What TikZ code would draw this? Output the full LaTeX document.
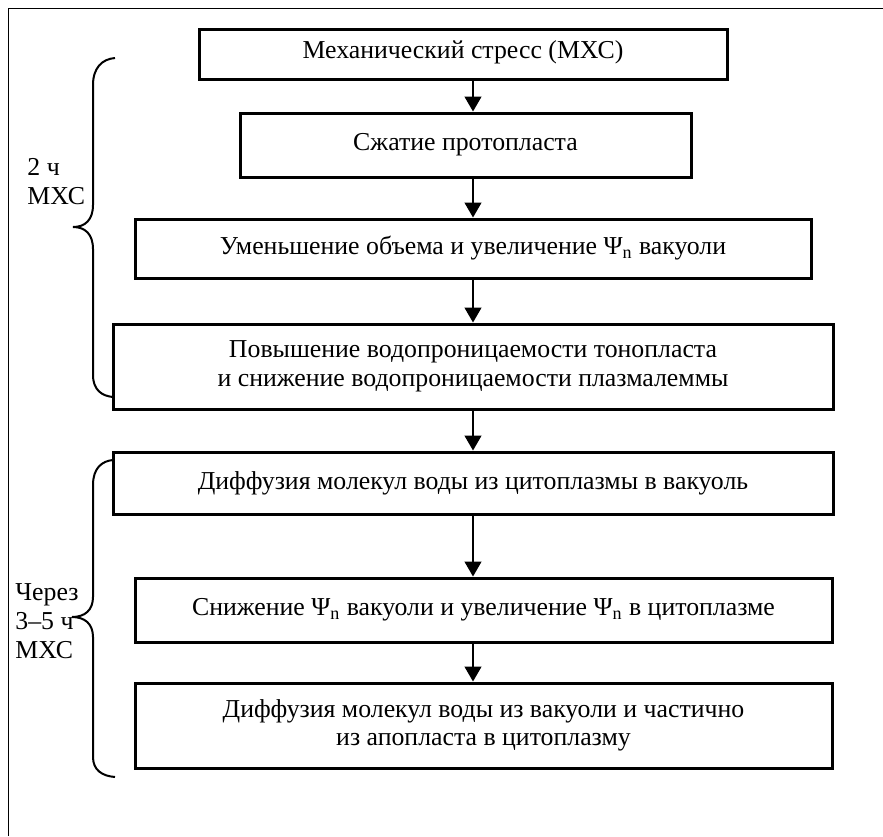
\documentclass[tikz,border=0pt]{standalone}
\usepackage{fontspec}
\setmainfont{Liberation Serif}
\usetikzlibrary{arrows.meta}

\begin{document}
\begin{tikzpicture}[
  x=0.5pt, y=-0.5pt,
  every node/.style={font=\fontsize{12.9}{14.3}\selectfont},
  box/.style={draw, line width=1.5pt, align=center, inner sep=0pt},
  lbl/.style={align=left, inner sep=0pt, font=\fontsize{12.9}{14.5}\selectfont},
  arrow/.style={-{Triangle[length=7.5pt,width=8.5pt]}, line width=0.65pt},
  brace/.style={line width=1pt}
]
\useasboundingbox (0,0) rectangle (883,836);
\draw[line width=0.5pt] (8,836) -- (8,8) -- (883,8);

\node[box, minimum width=264pt, minimum height=25pt, text depth=4.8pt] (stress) at (463,54) {Механический стресс (МХС)};
\node[box, minimum width=225.5pt, minimum height=32pt] (shrink) at (465.5,145) {Сжатие протопласта};
\node[box, minimum width=338pt, minimum height=29.5pt] (vol) at (473,248.5) {Уменьшение объема и увеличение Ψ\textsubscript{n} вакуоли};
\node[box, minimum width=360pt, minimum height=42.5pt] (perm) at (473,366.5) {Повышение водопроницаемости тонопласта\\и снижение водопроницаемости плазмалеммы};
\node[box, minimum width=360pt, minimum height=31pt] (diff) at (473,483) {Диффузия молекул воды из цитоплазмы в вакуоль};
\node[box, minimum width=348.5pt, minimum height=32pt] (psi) at (483.5,610) {Снижение Ψ\textsubscript{n} вакуоли и увеличение Ψ\textsubscript{n} в цитоплазме};
\node[box, minimum width=348.5pt, minimum height=42.5pt] (back) at (483.5,725.5) {Диффузия молекул воды из вакуоли и частично\\из апопласта в цитоплазму};

\coordinate (axis) at (473,0);
\draw[arrow] (stress.south -| axis) -- (shrink.north -| axis);
\draw[arrow] (shrink.south -| axis) -- (vol.north -| axis);
\draw[arrow] (vol.south -| axis) -- (perm.north -| axis);
\draw[arrow] (perm.south -| axis) -- (diff.north -| axis);
\draw[arrow] (diff.south -| axis) -- (psi.north -| axis);
\draw[arrow] (psi.south -| axis) -- (back.north -| axis);

% braces
\draw[brace] (115,58) .. controls (102,59) and (93,68) .. (93,85) -- (93,205)
  .. controls (93,220) and (85,227) .. (73,227)
  .. controls (85,227) and (93,234) .. (93,249) -- (93,375)
  .. controls (93,390) and (102,396) .. (113,397);
\draw[brace] (113,460) .. controls (102,461) and (93,468) .. (93,485) -- (93,597)
  .. controls (93,610) and (85,617) .. (72,617)
  .. controls (85,617) and (93,624) .. (93,637) -- (93,757)
  .. controls (93,770) and (102,776) .. (115,777);

\node[lbl, anchor=west] (first) at (27,182) {2 ч\\МХС};
\node[lbl, anchor=west] (second) at (15,621) {Через\\3–5 ч\\МХС};
\end{tikzpicture}
\end{document}
